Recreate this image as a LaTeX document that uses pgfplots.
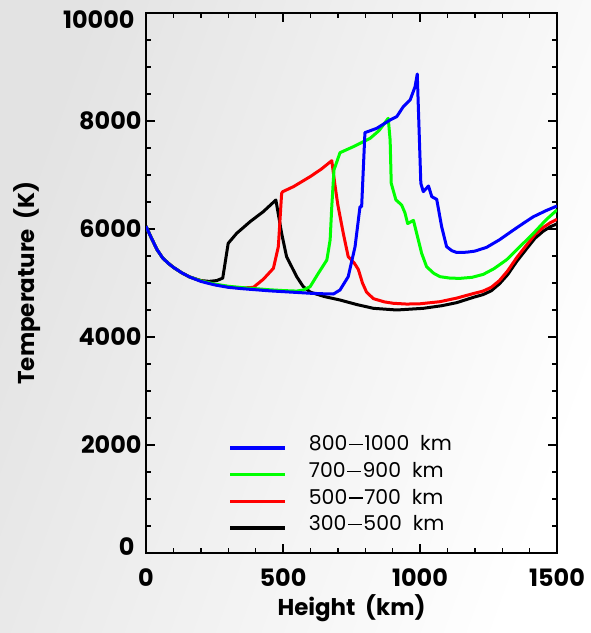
\documentclass[border=0pt]{standalone}
\usepackage{fontspec}
\setmainfont{Poppins}[Numbers=Monospaced]
\usepackage{pgfplots}
\pgfplotsset{compat=1.18}
% long dash used between the two heights of a range
\newcommand\rangedash{\kern1.5bp\rule[0.27em]{0.68em}{0.075em}\kern1.5bp}
\begin{document}
\begin{tikzpicture}
\useasboundingbox (0,0) rectangle (591bp,633bp);
\shade[left color=black!11, right color=white, shading angle=70] (0,0) rectangle (591bp,633bp);
\begin{axis}[
  name=ax,
  at={(146bp,80bp)}, anchor=south west,
  scale only axis, width=411bp, height=540bp,
  xmin=0, xmax=1500, ymin=0, ymax=10000,
  xtick={0,500,1000,1500}, xticklabels={0,500,1000,1500},
  ytick={2000,4000,6000,8000}, yticklabels={2000,4000,6000,8000},
  extra y ticks={0,10000}, extra y tick labels={},
  minor xtick={0,100,...,1500}, minor ytick={0,500,...,10000},
  tick align=inside,
  major tick length=9bp, minor tick length=5bp,
  axis line style={line width=1.6bp},
  every tick/.style={black, line width=1.4bp},
  ticklabel style={font=\bfseries\fontsize{24}{28}\selectfont},
  xticklabel style={yshift=-12bp},
  yticklabel style={xshift=-1bp},
  label style={font=\bfseries\fontsize{23}{27}\selectfont},
  xlabel={Height\ \ (km)},
  ylabel={Temperature\ \ (K)},
  xlabel style={at={(axis description cs:0.5,-0.102)}, anchor=center},
  ylabel style={at={(axis description cs:-0.29,0.5)}, anchor=center},
  no markers,
  every axis plot/.append style={line width=3bp, line join=round},
  reverse legend,
  legend cell align=left,
  legend style={at={(axis cs:300,2210)}, anchor=north west, draw=none, fill=none,
    inner sep=0pt, row sep=6bp, column sep=20bp,
    font=\fontsize{20.5}{22}\selectfont},
  legend image code/.code={\draw[#1, line width=3.5bp] (0bp,-4bp) -- (55bp,-4bp);},
]
% 300-500 km
\addplot[black] coordinates {
(0,6050) (20,5830) (40,5620) (60,5470) (80,5370) (100,5290) (130,5190) (160,5110)
(200,5045) (230,5030) (258,5045) (280,5090) (300,5735) (331,5920) (380,6136)
(428,6321) (474,6537) (495,5920) (513,5488) (550,5117) (574,4932) (600,4830)
(650,4750) (708,4685) (770,4600) (830,4531) (915,4500) (1012,4531) (1080,4580)
(1134,4636) (1195,4735) (1230,4785) (1260,4855) (1290,4985) (1320,5155)
(1353,5400) (1390,5640) (1420,5830) (1450,5960) (1475,6040) (1500,6095)};
\addlegendentry{300\rangedash500\ \ km}
% 500-700 km
\addplot[red] coordinates {
(0,6050) (20,5830) (40,5620) (60,5470) (80,5370) (100,5290) (130,5190) (160,5110)
(200,5040) (250,4975) (300,4930) (350,4905) (392,4920) (428,5068) (465,5272)
(483,5673) (495,6660) (499,6691) (538,6784) (599,6969) (640,7110) (678,7265)
(690,6800) (700,6450) (720,5920) (738,5488) (760,5370) (775,5250) (790,5000)
(805,4830) (830,4710) (870,4650) (903,4624) (951,4610) (1000,4615) (1073,4654)
(1134,4720) (1195,4805) (1230,4850) (1260,4920) (1290,5045) (1320,5225)
(1353,5470) (1390,5710) (1420,5900) (1450,6030) (1475,6115) (1500,6180)};
\addlegendentry{500\rangedash700\ \ km}
% 700-900 km
\addplot[green] coordinates {
(0,6050) (20,5830) (40,5620) (60,5470) (80,5370) (100,5290) (130,5190) (160,5110)
(200,5040) (250,4980) (300,4940) (350,4915) (400,4895) (450,4875) (500,4860)
(550,4850) (574,4870) (599,4932) (629,5180) (660,5426) (672,5796) (678,6413)
(686,7093) (708,7413) (757,7525) (818,7679) (850,7820) (884,8049) (891,7648)
(895,6846) (912,6540) (933,6444) (945,6300) (955,6100) (976,6160) (994,5796)
(1006,5550) (1024,5302) (1050,5180) (1073,5117) (1110,5090) (1146,5086)
(1190,5105) (1231,5160) (1270,5265) (1316,5430) (1360,5650) (1414,5920)
(1460,6170) (1500,6352)};
\addlegendentry{700\rangedash900\ \ km}
% 800-1000 km
\addplot[blue] coordinates {
(0,6050) (20,5830) (40,5620) (60,5470) (80,5370) (100,5290) (130,5190) (160,5110)
(200,5030) (250,4965) (300,4920) (350,4895) (400,4875) (450,4855) (500,4840)
(550,4825) (600,4810) (650,4800) (684,4796) (708,4870) (738,5117) (763,5673)
(781,6413) (787,6413) (799,7784) (842,7864) (891,8019) (915,8080) (939,8265)
(964,8389) (982,8635) (990,8870) (1003,6846) (1012,6691) (1031,6796)
(1043,6599) (1061,6549) (1079,6043) (1097,5673) (1116,5599) (1134,5565)
(1170,5570) (1200,5590) (1243,5660) (1290,5800) (1341,5981) (1380,6115)
(1414,6228) (1460,6340) (1500,6426)};
\addlegendentry{800\rangedash1000\ \ km}
\end{axis}
\node[anchor=east, font=\bfseries\fontsize{24}{28}\selectfont] at ([xshift=-8bp, yshift=6bp]ax.south west) {0};
\node[anchor=east, font=\bfseries\fontsize{24}{28}\selectfont] at ([xshift=-8bp, yshift=-7bp]ax.north west) {10000};
\end{tikzpicture}
\end{document}
